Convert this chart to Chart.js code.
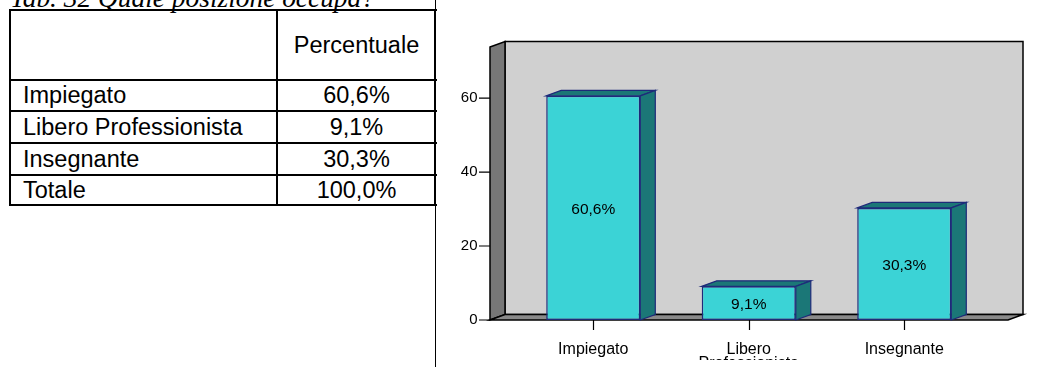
<!DOCTYPE html>
<html>
<head>
<meta charset="utf-8">
<script src="https://cdn.jsdelivr.net/npm/chart.js@4.4.0/dist/chart.umd.min.js"></script>
<style>
  html, body { margin: 0; padding: 0; background: #fff; }
  body { width: 1051px; height: 367px; position: relative; overflow: hidden; }
  #title {
    position: absolute; left: 10px; top: -17px; line-height: 30px;
    font-family: "Liberation Serif", "Times New Roman", serif;
    font-style: italic; font-size: 27.4px; color: #000; white-space: nowrap;
  }
  .ln { position: absolute; background: #000; }
  .cell {
    position: absolute; font-family: "Liberation Sans", Arial, sans-serif;
    font-size: 23.5px; color: #000; white-space: nowrap;
  }
  #chart { position: absolute; left: 437px; top: 0; }
</style>
</head>
<body>
<div id="title">Tab. 32 Quale posizione occupa?</div>
<div id="table"></div>
<canvas id="chart" width="614" height="367"></canvas>
<script>
  // table data
  const TABLE_HEADER = 'Percentuale';
  const TABLE_LABELS = ['Impiegato', 'Libero Professionista', 'Insegnante', 'Totale'];
  const TABLE_VALUES = ['60,6%', '9,1%', '30,3%', '100,0%'];

  // chart data
  const CATEGORIES = ['Impiegato', ['Libero', 'Professionista'], 'Insegnante'];
  const VALUES = [60.6, 9.1, 30.3];
  const Y_TICKS = [0, 20, 40, 60];
  const Y_MAX = 73.8;

  // colours
  const BAR_FRONT = '#3bd3d6';
  const BAR_SIDE = '#1b7777';
  const BAR_EDGE = '#1e2a7a';
  const WALL_BACK = '#d0d0d0';
  const WALL_SIDE = '#777777';
  const FLOOR = '#8a8a8a';

  // 3D depth and plot extension beyond the category range
  const DX = 15, DY = -5.5;
  const EXT_LEFT = 25.5, EXT_RIGHT = 26;

  /**
   * Build the table with plain positioned divs
   */
  function buildTable() {
    const host = document.getElementById('table');
    const rows = [10, 80, 111, 143, 175, 205];   // line centres
    const cols = [10, 277, 435];
    const add = (cls, style, text) => {
      const d = document.createElement('div');
      d.className = cls;
      Object.assign(d.style, style);
      if (text != null) d.textContent = text;
      host.appendChild(d);
    };
    rows.forEach(y => add('ln', { left: '9px', top: (y - 1) + 'px', width: '428px', height: '2px' }));
    cols.forEach(x => add('ln', { left: (x - 1) + 'px', top: '9px', width: '2px', height: '197px' }));
    // thin frame line running the full page height
    add('ln', { left: '435px', top: '0px', width: '1px', height: '367px' });

    const rowText = (i, label, value) => {
      const top = rows[i] + 1, h = rows[i + 1] - rows[i] - 2;
      add('cell', { left: '23px', top: top + 'px', lineHeight: h + 'px', height: h + 'px' }, label);
      add('cell', { left: '278px', width: '157px', textAlign: 'center', top: top + 'px',
                    lineHeight: h + 'px', height: h + 'px' }, value);
    };
    rowText(0, '', TABLE_HEADER);
    TABLE_LABELS.forEach((l, i) => rowText(i + 1, l, TABLE_VALUES[i]));
  }

  function poly(ctx, pts, fill) {
    ctx.beginPath();
    pts.forEach((p, i) => i ? ctx.lineTo(p[0], p[1]) : ctx.moveTo(p[0], p[1]));
    ctx.closePath();
    ctx.fillStyle = fill;
    ctx.fill();
    ctx.stroke();
  }

  function fmt(v) {
    return v.toFixed(1).replace('.', ',') + '%';
  }

  // draws the walls, floor, tick marks and the bar sides/tops
  const box3d = {
    id: 'box3d',
    beforeDatasetsDraw(chart) {
      const { ctx, chartArea: a, scales } = chart;
      const L = a.left - EXT_LEFT, R = a.right + EXT_RIGHT, T = a.top, B = a.bottom;
      ctx.save();
      ctx.strokeStyle = '#000';
      ctx.lineWidth = 1.5;
      poly(ctx, [[L + DX, T + DY], [R + DX, T + DY], [R + DX, B + DY], [L + DX, B + DY]], WALL_BACK);
      poly(ctx, [[L, T], [L + DX, T + DY], [L + DX, B + DY], [L, B]], WALL_SIDE);
      poly(ctx, [[L, B], [L + DX, B + DY], [R + DX, B + DY], [R, B]], FLOOR);

      ctx.lineWidth = 1.2;
      ctx.beginPath();
      Y_TICKS.forEach(v => {
        const py = scales.y.getPixelForValue(v);
        ctx.moveTo(L - 11, py);
        ctx.lineTo(L, py);
      });
      CATEGORIES.forEach((c, i) => {
        const px = Math.round(scales.x.getPixelForValue(i)) + 0.5;
        ctx.moveTo(px, B);
        ctx.lineTo(px, B + 10);
      });
      ctx.stroke();
      ctx.restore();
    },
    afterDatasetsDraw(chart) {
      const { ctx } = chart;
      const meta = chart.getDatasetMeta(0);
      ctx.save();
      ctx.strokeStyle = BAR_EDGE;
      ctx.lineWidth = 1.2;
      meta.data.forEach((bar, i) => {
        const { x, y, base, width } = bar.getProps(['x', 'y', 'base', 'width'], true);
        const l = x - width / 2, r = x + width / 2;
        poly(ctx, [[l, y], [l + DX, y + DY], [r + DX, y + DY], [r, y]], BAR_SIDE);
        poly(ctx, [[r, y], [r + DX, y + DY], [r + DX, base + DY], [r, base]], BAR_SIDE);

        ctx.fillStyle = '#000';
        ctx.font = '15.5px "Liberation Sans", Arial, sans-serif';
        ctx.textAlign = 'center';
        ctx.textBaseline = 'middle';
        ctx.fillText(fmt(VALUES[i]), x, (y + base) / 2 + 2);
      });
      ctx.restore();
    }
  };

  function initChart() {
    const ctx = document.getElementById('chart').getContext('2d');
    new Chart(ctx, {
      type: 'bar',
      data: {
        labels: CATEGORIES,
        datasets: [{
          data: VALUES,
          backgroundColor: BAR_FRONT,
          borderColor: BAR_EDGE,
          borderWidth: 1.5,
          borderSkipped: false,
          categoryPercentage: 1,
          barPercentage: 0.605
        }]
      },
      options: {
        responsive: false,
        animation: false,
        devicePixelRatio: 1,
        layout: { padding: { top: 38, right: 69, bottom: 0, left: 0 } },
        plugins: { legend: { display: false }, tooltip: { enabled: false } },
        scales: {
          x: {
            grid: { display: false, drawTicks: false },
            border: { display: false },
            afterFit: (s) => { s.height = 40; },
            ticks: {
              color: '#000',
              padding: 22,
              maxRotation: 0,
              autoSkip: false,
              font: { family: '"Liberation Sans", Arial, sans-serif', size: 16, lineHeight: 0.92 }
            }
          },
          y: {
            min: 0,
            max: Y_MAX,
            grid: { display: false, drawTicks: false },
            border: { display: false },
            afterFit: (s) => { s.width = 78.5; },
            afterBuildTicks: (s) => { s.ticks = Y_TICKS.map(v => ({ value: v })); },
            ticks: {
              color: '#000',
              padding: 38,
              font: { family: '"Liberation Sans", Arial, sans-serif', size: 15 }
            }
          }
        }
      },
      plugins: [box3d]
    });
  }

  buildTable();
  initChart();
</script>
</body>
</html>
